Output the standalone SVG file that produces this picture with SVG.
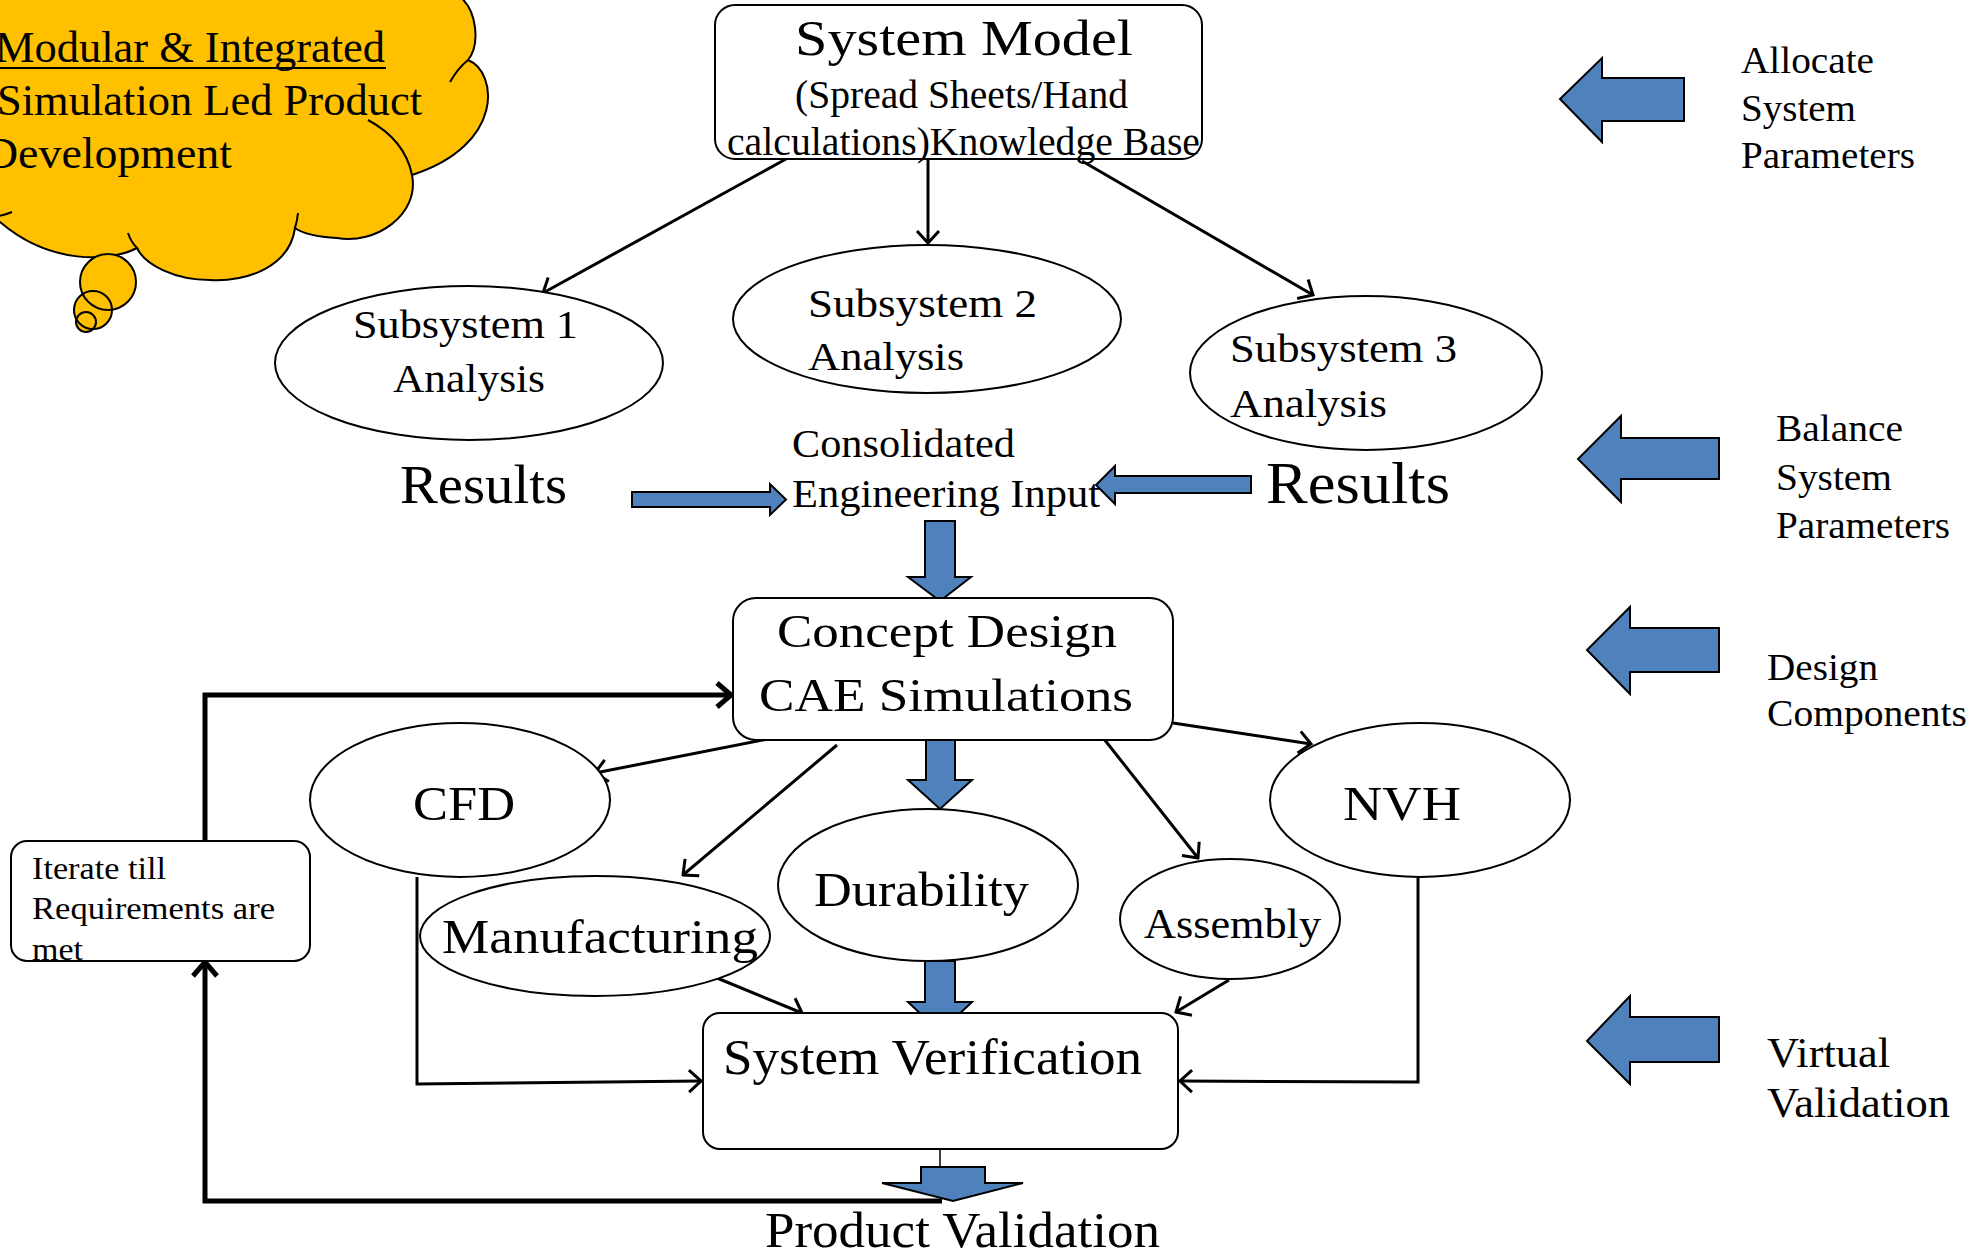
<svg xmlns="http://www.w3.org/2000/svg" width="1982" height="1253" viewBox="0 0 1982 1253">
<style>
text{font-family:"Liberation Serif","Times New Roman",serif;fill:#000}
.shape{fill:#fff;stroke:#000;stroke-width:2}
.conn{fill:none;stroke:#000;stroke-width:3}
.thick{fill:none;stroke:#000;stroke-width:5}
.blue{fill:#4F81BD;stroke:#000;stroke-width:2;stroke-linejoin:miter}
.cloud{fill:#FFC000;stroke:#000;stroke-width:2}
.inner{fill:none;stroke:#000;stroke-width:2}
</style>
<defs>
<marker id="ah" viewBox="0 0 16 26" refX="14" refY="13" markerWidth="16" markerHeight="26" markerUnits="userSpaceOnUse" orient="auto"><path d="M2,2 L14,13 L2,24" fill="none" stroke="#000" stroke-width="3"/></marker>
<marker id="ahT" viewBox="0 0 20 30" refX="17" refY="15" markerWidth="20" markerHeight="30" markerUnits="userSpaceOnUse" orient="auto"><path d="M3,3 L17,15 L3,27" fill="none" stroke="#000" stroke-width="5"/></marker>
</defs>

<g id="cloud">
<path class="cloud" d="M-5,-5 L458,-5 C478,10 480,45 468,60 C498,72 505,145 412,175 C420,215 375,245 337,238 C318,237 302,233 295,228 C290,265 250,282 210,280 C175,280 145,265 137,248 C110,262 50,265 0,222 L-5,222 Z"/>
<path class="inner" d="M450,82 Q458,68 468,60 M368,120 Q405,140 412,175 M298,213 Q297,222 295,228 M128,233 Q131,242 137,248 M-2,216 Q5,215 12,212"/>
<circle cx="108" cy="282" r="28" fill="#FFC000"/>
<circle cx="93" cy="310" r="19" fill="#FFC000"/>
<circle cx="86" cy="322" r="10" fill="#FFC000"/>
<circle cx="108" cy="282" r="28" class="inner"/>
<circle cx="93" cy="310" r="19" class="inner"/>
<circle cx="86" cy="322" r="10" class="inner"/>
<text x="-5" y="62" font-size="45" textLength="390" lengthAdjust="spacingAndGlyphs">Modular &amp; Integrated</text>
<line x1="0" y1="68" x2="386" y2="68" stroke="#000" stroke-width="2.2"/>
<text x="-3" y="115" font-size="45" textLength="425" lengthAdjust="spacingAndGlyphs">Simulation Led Product</text>
<text x="-15" y="168" font-size="45" textLength="247" lengthAdjust="spacingAndGlyphs">Development</text>
</g>

<g id="connectors">
<line class="conn" x1="786" y1="159" x2="543" y2="293" marker-end="url(#ah)"/>
<line class="conn" x1="928" y1="159" x2="928" y2="243" marker-end="url(#ah)"/>
<line class="conn" x1="1082" y1="161" x2="1313" y2="295" marker-end="url(#ah)"/>
<line class="conn" x1="768" y1="739" x2="595" y2="773" marker-end="url(#ah)"/>
<line class="conn" x1="837" y1="745" x2="683" y2="875" marker-end="url(#ah)"/>
<line class="conn" x1="1104" y1="739" x2="1198" y2="858" marker-end="url(#ah)"/>
<line class="conn" x1="1173" y1="723" x2="1311" y2="744" marker-end="url(#ah)"/>
<line class="conn" x1="717" y1="978" x2="802" y2="1013" marker-end="url(#ah)"/>
<line class="conn" x1="1229" y1="980" x2="1176" y2="1012" marker-end="url(#ah)"/>
<polyline class="conn" points="417,877 417,1084 701,1081" marker-end="url(#ah)"/>
<polyline class="conn" points="1418,877 1418,1082 1180,1081" marker-end="url(#ah)"/>
<polyline class="thick" points="942,1201 205,1201 205,962" marker-end="url(#ahT)"/>
<polyline class="thick" points="205,841 205,695 731,695" marker-end="url(#ahT)"/>
<line x1="940" y1="1149" x2="940" y2="1168" stroke="#000" stroke-width="1.5"/>
<polygon class="blue" points="632,492 770,492 770,484 786,499.5 770,515 770,507 632,507"/>
<polygon class="blue" points="1251,476 1115,476 1115,466 1096,485 1115,504 1115,493 1251,493"/>
<polygon class="blue" points="925,521 955,521 955,577 971,577 940,601 908,577 925,577"/>
<polygon class="blue" points="926,740 955,740 955,780 972,780 940,809 908,780 926,780"/>
<polygon class="blue" points="925,961 955,961 955,1002 972,1002 940,1032 908,1002 925,1002"/>
<polygon class="blue" points="921,1167 985,1167 985,1183 1023,1183 953,1201 882,1183 921,1183"/>
</g>

<g id="system-model">
<rect class="shape" x="715" y="5" width="487" height="154" rx="20"/>
<text x="795" y="55" font-size="51" textLength="338" lengthAdjust="spacingAndGlyphs">System Model</text>
<text x="795" y="108" font-size="39" textLength="333" lengthAdjust="spacingAndGlyphs">(Spread Sheets/Hand</text>
<text x="727" y="155" font-size="39" textLength="473" lengthAdjust="spacingAndGlyphs">calculations)Knowledge Base</text>
</g>

<g id="subsystem1">
<ellipse class="shape" cx="469" cy="363" rx="194" ry="77"/>
<text x="353" y="338" font-size="39" textLength="225" lengthAdjust="spacingAndGlyphs">Subsystem 1</text>
<text x="393" y="392" font-size="39" textLength="152" lengthAdjust="spacingAndGlyphs">Analysis</text>
</g>
<g id="subsystem2">
<ellipse class="shape" cx="927" cy="319" rx="194" ry="74"/>
<text x="808" y="317" font-size="39" textLength="229" lengthAdjust="spacingAndGlyphs">Subsystem 2</text>
<text x="808" y="370" font-size="39" textLength="156" lengthAdjust="spacingAndGlyphs">Analysis</text>
</g>
<g id="subsystem3">
<ellipse class="shape" cx="1366" cy="373" rx="176" ry="77"/>
<text x="1230" y="362" font-size="39" textLength="227" lengthAdjust="spacingAndGlyphs">Subsystem 3</text>
<text x="1230" y="417" font-size="39" textLength="157" lengthAdjust="spacingAndGlyphs">Analysis</text>
</g>

<g id="results-left"><text x="400" y="503" font-size="55" textLength="167" lengthAdjust="spacingAndGlyphs">Results</text></g>
<g id="results-right"><text x="1266" y="503" font-size="59" textLength="184" lengthAdjust="spacingAndGlyphs">Results</text></g>
<g id="consolidated">
<text x="792" y="457" font-size="40" textLength="223" lengthAdjust="spacingAndGlyphs">Consolidated</text>
<text x="792" y="507" font-size="40" textLength="308" lengthAdjust="spacingAndGlyphs">Engineering Input</text>
</g>

<g id="concept">
<rect class="shape" x="733" y="598" width="440" height="142" rx="23"/>
<text x="777" y="647" font-size="47" textLength="340" lengthAdjust="spacingAndGlyphs">Concept Design</text>
<text x="759" y="711" font-size="47" textLength="374" lengthAdjust="spacingAndGlyphs">CAE Simulations</text>
</g>

<g id="cfd">
<ellipse class="shape" cx="460" cy="800" rx="150" ry="77"/>
<text x="413" y="820" font-size="49" textLength="102" lengthAdjust="spacingAndGlyphs">CFD</text>
</g>
<g id="manufacturing">
<ellipse class="shape" cx="595" cy="936" rx="175" ry="60"/>
<text x="442" y="953" font-size="49" textLength="316" lengthAdjust="spacingAndGlyphs">Manufacturing</text>
</g>
<g id="durability">
<ellipse class="shape" cx="928" cy="885" rx="150" ry="76"/>
<text x="814" y="906" font-size="49" textLength="215" lengthAdjust="spacingAndGlyphs">Durability</text>
</g>
<g id="assembly">
<ellipse class="shape" cx="1230" cy="919" rx="110" ry="60"/>
<text x="1144" y="938" font-size="42" textLength="177" lengthAdjust="spacingAndGlyphs">Assembly</text>
</g>
<g id="nvh">
<ellipse class="shape" cx="1420" cy="800" rx="150" ry="77"/>
<text x="1343" y="820" font-size="49" textLength="118" lengthAdjust="spacingAndGlyphs">NVH</text>
</g>

<g id="iterate">
<rect class="shape" x="11" y="841" width="299" height="120" rx="16"/>
<text x="32" y="879" font-size="32" textLength="134" lengthAdjust="spacingAndGlyphs">Iterate till</text>
<text x="32" y="919" font-size="32" textLength="243" lengthAdjust="spacingAndGlyphs">Requirements are</text>
<text x="32" y="960" font-size="32" textLength="51" lengthAdjust="spacingAndGlyphs">met</text>
</g>

<g id="system-verification">
<rect class="shape" x="703" y="1013" width="475" height="136" rx="17"/>
<text x="723" y="1074" font-size="50" textLength="419" lengthAdjust="spacingAndGlyphs">System Verification</text>
</g>

<g id="product-validation"><text x="765" y="1247" font-size="50" textLength="395" lengthAdjust="spacingAndGlyphs">Product Validation</text></g>

<g id="allocate">
<polygon class="blue" points="1684,78 1602,78 1602,58 1560,99 1602,142 1602,121 1684,121"/>
<text x="1741" y="73" font-size="37" textLength="133" lengthAdjust="spacingAndGlyphs">Allocate</text>
<text x="1741" y="121" font-size="37" textLength="115" lengthAdjust="spacingAndGlyphs">System</text>
<text x="1741" y="168" font-size="37" textLength="174" lengthAdjust="spacingAndGlyphs">Parameters</text>
</g>
<g id="balance">
<polygon class="blue" points="1719,438 1621,438 1621,416 1578,459 1621,502 1621,479 1719,479"/>
<text x="1776" y="441" font-size="37" textLength="127" lengthAdjust="spacingAndGlyphs">Balance</text>
<text x="1776" y="490" font-size="37" textLength="116" lengthAdjust="spacingAndGlyphs">System</text>
<text x="1776" y="538" font-size="37" textLength="174" lengthAdjust="spacingAndGlyphs">Parameters</text>
</g>
<g id="design-components">
<polygon class="blue" points="1719,628 1630,628 1630,607 1587,650 1630,694 1630,672 1719,672"/>
<text x="1767" y="680" font-size="38" textLength="111" lengthAdjust="spacingAndGlyphs">Design</text>
<text x="1767" y="726" font-size="38" textLength="200" lengthAdjust="spacingAndGlyphs">Components</text>
</g>
<g id="virtual-validation">
<polygon class="blue" points="1719,1017 1630,1017 1630,996 1587,1041 1630,1084 1630,1062 1719,1062"/>
<text x="1767" y="1067" font-size="42" textLength="123" lengthAdjust="spacingAndGlyphs">Virtual</text>
<text x="1767" y="1117" font-size="42" textLength="183" lengthAdjust="spacingAndGlyphs">Validation</text>
</g>
</svg>
